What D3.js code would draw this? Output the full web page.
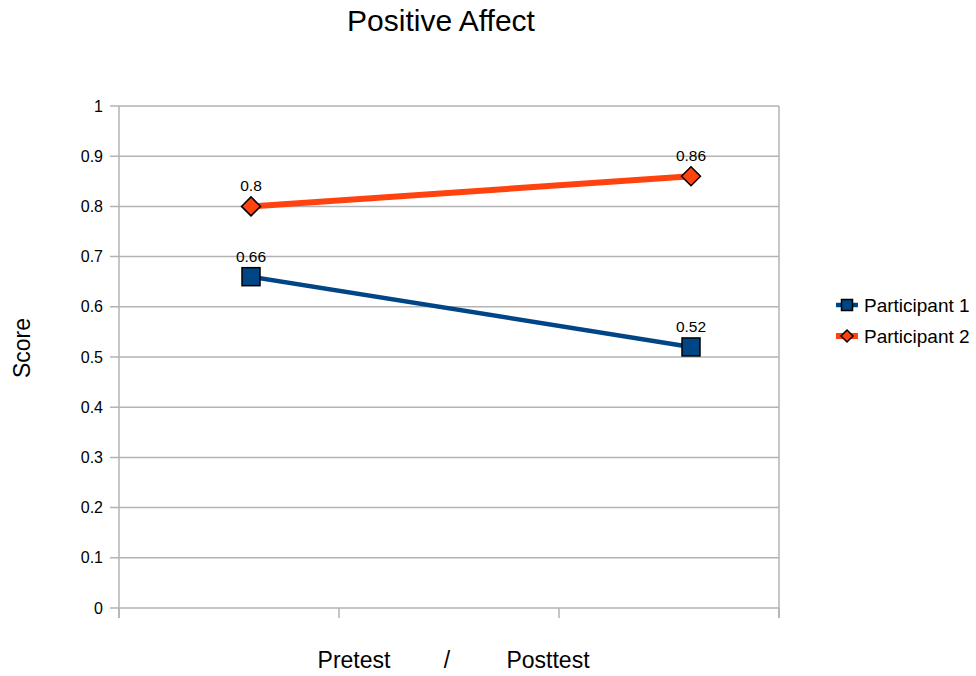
<!DOCTYPE html>
<html><head><meta charset="utf-8">
<script src="https://cdn.jsdelivr.net/npm/d3@7"></script>
<style>body{margin:0;background:#fff}svg{display:block;font-family:"Liberation Sans",Arial,sans-serif}</style>
</head><body>
<script>
const categories = ["Pretest", "Posttest"];
const categoryPos = [0.6, 2.6];
const participant1 = [0.66, 0.52];
const participant2 = [0.80, 0.86];
const seriesNames = ["Participant 1", "Participant 2"];
const yTicks = [0, 0.1, 0.2, 0.3, 0.4, 0.5, 0.6, 0.7, 0.8, 0.9, 1];
const xTicks = [0, 1, 2, 3];
const xTitleParts = ["Pretest", "/", "Posttest"];

const W = 976, H = 676;
const svg = d3.select("body").append("svg").attr("width", W).attr("height", H);
const x = d3.scaleLinear().domain([0, 3]).range([119, 779]);
const y = d3.scaleLinear().domain([0, 1]).range([608, 106]);

// grid
svg.append("g").selectAll("line").data(yTicks).join("line")
  .attr("x1", 110).attr("x2", 779).attr("y1", d => y(d)).attr("y2", d => y(d))
  .attr("stroke", "#b3b3b3").attr("stroke-width", 1.5);
svg.append("line").attr("x1", x(0)).attr("x2", x(0)).attr("y1", y(1)).attr("y2", 618).attr("stroke", "#b3b3b3").attr("stroke-width", 1.5);
svg.append("line").attr("x1", x(3)).attr("x2", x(3)).attr("y1", y(1)).attr("y2", 618).attr("stroke", "#b3b3b3").attr("stroke-width", 1.5);
svg.append("g").selectAll("line").data(xTicks).join("line")
  .attr("x1", d => x(d)).attr("x2", d => x(d)).attr("y1", y(0)).attr("y2", 618)
  .attr("stroke", "#b3b3b3").attr("stroke-width", 1.5);
svg.append("g").selectAll("text").data(yTicks).join("text")
  .attr("x", 103).attr("y", d => y(d)).attr("dy", "0.35em").attr("text-anchor", "end")
  .attr("font-size", 16).attr("fill", "#000").text(d => d3.format("~g")(d));

// titles
svg.append("text").attr("x", 441).attr("y", 31).attr("text-anchor", "middle").attr("font-size", 30).text("Positive Affect");
svg.append("text").attr("transform", "translate(30,348) rotate(-90)").attr("text-anchor", "middle").attr("font-size", 23).text("Score");
const xTitleX = [354, 447, 548];
svg.append("g").selectAll("text").data(xTitleParts).join("text")
  .attr("x", (d, i) => xTitleX[i]).attr("y", 668).attr("text-anchor", "middle").attr("font-size", 23).text(d => d);

const series = [
  {name: seriesNames[0], values: participant1, color: "#004586", width: 4.5, shape: "square"},
  {name: seriesNames[1], values: participant2, color: "#ff420e", width: 6, shape: "diamond"}
];
const line = d3.line().x((d, i) => x(categoryPos[i])).y(d => y(d));

function marker(g, shape, color, size) {
  if (shape === "square") {
    g.append("rect").attr("x", -size/2).attr("y", -size/2).attr("width", size).attr("height", size)
      .attr("fill", color).attr("stroke", "#000").attr("stroke-width", 1.5);
  } else {
    const s = size/2;
    g.append("path").attr("d", `M0,${-s}L${s},0L0,${s}L${-s},0Z`)
      .attr("fill", color).attr("stroke", "#000").attr("stroke-width", 1.5);
  }
}

series.forEach(s => {
  svg.append("path").datum(s.values).attr("d", line).attr("fill", "none")
    .attr("stroke", s.color).attr("stroke-width", s.width);
  s.values.forEach((v, i) => {
    const g = svg.append("g").attr("transform", `translate(${x(categoryPos[i])},${y(v)})`);
    marker(g, s.shape, s.color, s.shape === "square" ? 18 : 19);
    svg.append("text").attr("x", x(categoryPos[i])).attr("y", y(v) - 15).attr("text-anchor", "middle")
      .attr("font-size", 15.5).text(d3.format("~g")(v));
  });
});

// legend
series.forEach((s, i) => {
  const ly = 305 + i * 31;
  svg.append("line").attr("x1", 836).attr("x2", 858).attr("y1", ly).attr("y2", ly)
    .attr("stroke", s.color).attr("stroke-width", s.width);
  const g = svg.append("g").attr("transform", `translate(847,${ly})`);
  marker(g, s.shape, s.color, s.shape === "square" ? 11 : 12);
  svg.append("text").attr("x", 864).attr("y", ly).attr("dy", "0.35em").attr("font-size", 19).text(s.name);
});
</script>
</body></html>
